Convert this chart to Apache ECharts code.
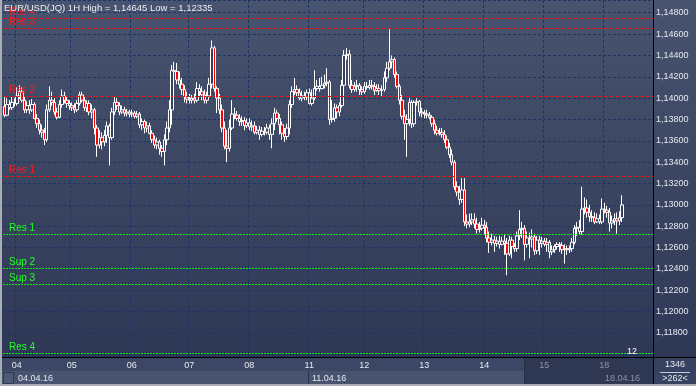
<!DOCTYPE html>
<html><head><meta charset="utf-8">
<script src="https://cdn.jsdelivr.net/npm/echarts/dist/echarts.min.js"></script>
<style>html,body{margin:0;padding:0;background:#3a4666;overflow:hidden}#c{width:696px;height:386px}</style>
</head><body><div id="c"></div>
<script>
// ---- DATA ----
const titleText = 'EUR/USD(JQ) 1H High = 1,14645 Low = 1,12335';
// [open, close, low, high] per hourly bar
const candles = [
[1.1392,1.1384,1.1382,1.1401],[1.1384,1.1394,1.1383,1.1400],[1.1394,1.1391,1.1389,1.1398],[1.1391,1.1396,1.1389,1.1401],
[1.1396,1.1395,1.1392,1.1400],[1.1395,1.1402,1.1393,1.1410],[1.1402,1.1406,1.1399,1.1412],[1.1406,1.1398,1.1396,1.1410],
[1.1398,1.1389,1.1386,1.1402],[1.1389,1.1393,1.1386,1.1397],[1.1393,1.1389,1.1385,1.1398],[1.1389,1.1394,1.1387,1.1399],
[1.1394,1.1381,1.1380,1.1396],[1.1381,1.1376,1.1372,1.1385],[1.1376,1.1370,1.1366,1.1380],[1.1370,1.1368,1.1363,1.1375],
[1.1368,1.1361,1.1356,1.1372],[1.1361,1.1389,1.1359,1.1394],[1.1389,1.1398,1.1387,1.1411],[1.1398,1.1396,1.1393,1.1406],
[1.1396,1.1387,1.1384,1.1400],[1.1387,1.1382,1.1380,1.1391],[1.1382,1.1394,1.1381,1.1398],[1.1394,1.1402,1.1391,1.1408],
[1.1402,1.1398,1.1395,1.1406],[1.1398,1.1395,1.1391,1.1402],[1.1395,1.1393,1.1389,1.1398],[1.1393,1.1391,1.1388,1.1396],
[1.1391,1.1389,1.1386,1.1395],[1.1389,1.1395,1.1387,1.1398],[1.1395,1.1403,1.1393,1.1406],[1.1403,1.1398,1.1396,1.1406],
[1.1398,1.1391,1.1388,1.1401],[1.1391,1.1395,1.1387,1.1398],[1.1395,1.1387,1.1384,1.1398],[1.1387,1.1389,1.1381,1.1394],
[1.1389,1.1372,1.1366,1.1391],[1.1372,1.1356,1.1345,1.1375],[1.1356,1.1363,1.1353,1.1370],[1.1363,1.1359,1.1352,1.1368],
[1.1359,1.1365,1.1355,1.1370],[1.1365,1.1374,1.1358,1.1378],[1.1374,1.1363,1.1337,1.1376],[1.1363,1.1387,1.1361,1.1391],
[1.1387,1.1396,1.1384,1.1401],[1.1396,1.1393,1.1389,1.1400],[1.1393,1.1387,1.1384,1.1396],[1.1387,1.1389,1.1385,1.1393],
[1.1389,1.1386,1.1383,1.1392],[1.1386,1.1387,1.1383,1.1390],[1.1387,1.1385,1.1382,1.1389],[1.1385,1.1386,1.1382,1.1389],
[1.1386,1.1383,1.1381,1.1388],[1.1383,1.1385,1.1381,1.1388],[1.1385,1.1375,1.1372,1.1387],[1.1375,1.1378,1.1370,1.1381],
[1.1378,1.1372,1.1367,1.1380],[1.1372,1.1374,1.1368,1.1378],[1.1374,1.1367,1.1366,1.1377],[1.1367,1.1361,1.1358,1.1370],
[1.1361,1.1356,1.1353,1.1365],[1.1356,1.1359,1.1352,1.1363],[1.1359,1.1353,1.1347,1.1361],[1.1353,1.1350,1.1345,1.1356],
[1.1350,1.1361,1.1337,1.1366],[1.1361,1.1372,1.1356,1.1378],[1.1372,1.1389,1.1368,1.1398],[1.1389,1.1426,1.1375,1.1431],
[1.1426,1.1425,1.1417,1.1434],[1.1425,1.1417,1.1413,1.1433],[1.1417,1.1413,1.1409,1.1425],[1.1413,1.1408,1.1403,1.1419],
[1.1408,1.1401,1.1396,1.1412],[1.1401,1.1399,1.1395,1.1406],[1.1399,1.1398,1.1395,1.1404],[1.1398,1.1400,1.1395,1.1403],
[1.1400,1.1398,1.1395,1.1404],[1.1398,1.1409,1.1396,1.1415],[1.1409,1.1406,1.1401,1.1413],[1.1406,1.1403,1.1398,1.1411],
[1.1403,1.1398,1.1395,1.1408],[1.1398,1.1402,1.1395,1.1406],[1.1402,1.1413,1.1399,1.1419],[1.1413,1.1447,1.1409,1.1454],
[1.1447,1.1409,1.1406,1.1449],[1.1409,1.1400,1.1386,1.1411],[1.1400,1.1389,1.1385,1.1404],[1.1389,1.1372,1.1368,1.1394],
[1.1372,1.1355,1.1352,1.1378],[1.1355,1.1353,1.1340,1.1370],[1.1353,1.1372,1.1350,1.1380],[1.1372,1.1385,1.1370,1.1398],
[1.1385,1.1384,1.1380,1.1391],[1.1384,1.1381,1.1379,1.1388],[1.1381,1.1378,1.1374,1.1385],[1.1378,1.1379,1.1374,1.1383],
[1.1379,1.1374,1.1370,1.1382],[1.1374,1.1377,1.1372,1.1381],[1.1377,1.1373,1.1370,1.1381],[1.1373,1.1374,1.1369,1.1379],
[1.1374,1.1368,1.1366,1.1378],[1.1368,1.1370,1.1366,1.1374],[1.1370,1.1366,1.1361,1.1374],[1.1366,1.1369,1.1364,1.1373],
[1.1369,1.1368,1.1365,1.1373],[1.1368,1.1372,1.1366,1.1376],[1.1372,1.1366,1.1361,1.1375],[1.1366,1.1376,1.1353,1.1381],
[1.1376,1.1386,1.1370,1.1391],[1.1386,1.1381,1.1378,1.1389],[1.1381,1.1375,1.1366,1.1385],[1.1375,1.1367,1.1361,1.1378],
[1.1367,1.1364,1.1359,1.1372],[1.1364,1.1372,1.1361,1.1376],[1.1372,1.1394,1.1366,1.1398],[1.1394,1.1406,1.1391,1.1411],
[1.1406,1.1408,1.1403,1.1419],[1.1408,1.1405,1.1402,1.1412],[1.1405,1.1400,1.1398,1.1409],[1.1400,1.1402,1.1397,1.1407],
[1.1402,1.1401,1.1398,1.1406],[1.1401,1.1405,1.1398,1.1408],[1.1405,1.1395,1.1394,1.1409],[1.1395,1.1400,1.1393,1.1408],
[1.1400,1.1409,1.1398,1.1426],[1.1409,1.1411,1.1407,1.1417],[1.1411,1.1409,1.1406,1.1419],[1.1409,1.1412,1.1408,1.1420],
[1.1412,1.1414,1.1409,1.1422],[1.1414,1.1415,1.1411,1.1428],[1.1415,1.1380,1.1375,1.1417],[1.1380,1.1381,1.1377,1.1398],
[1.1381,1.1391,1.1378,1.1395],[1.1391,1.1387,1.1381,1.1394],[1.1387,1.1393,1.1383,1.1396],[1.1393,1.1412,1.1391,1.1417],
[1.1412,1.1440,1.1409,1.1445],[1.1440,1.1441,1.1436,1.1447],[1.1441,1.1412,1.1409,1.1445],[1.1412,1.1408,1.1405,1.1417],
[1.1408,1.1411,1.1406,1.1415],[1.1411,1.1412,1.1406,1.1417],[1.1412,1.1408,1.1403,1.1414],[1.1408,1.1406,1.1403,1.1411],
[1.1406,1.1411,1.1404,1.1415],[1.1411,1.1410,1.1408,1.1415],[1.1410,1.1412,1.1408,1.1417],[1.1412,1.1411,1.1408,1.1417],
[1.1411,1.1407,1.1403,1.1415],[1.1407,1.1409,1.1406,1.1413],[1.1409,1.1407,1.1403,1.1413],[1.1407,1.1408,1.1401,1.1412],
[1.1408,1.1419,1.1406,1.1425],[1.1419,1.1428,1.1415,1.1434],[1.1428,1.1434,1.1426,1.14645],[1.1434,1.1436,1.1428,1.1440],
[1.1436,1.1422,1.1419,1.1438],[1.1422,1.1411,1.1409,1.1425],[1.1411,1.1398,1.1394,1.1413],[1.1398,1.1383,1.1380,1.1403],
[1.1383,1.1376,1.1361,1.1389],[1.1376,1.1380,1.1345,1.1385],[1.1380,1.1396,1.1374,1.1400],[1.1396,1.1376,1.1372,1.1398],
[1.1376,1.1396,1.1373,1.1398],[1.1396,1.1397,1.1393,1.1400],[1.1397,1.1387,1.1383,1.1398],[1.1387,1.1386,1.1382,1.1391],
[1.1386,1.1385,1.1381,1.1389],[1.1385,1.1384,1.1381,1.1389],[1.1384,1.1382,1.1380,1.1387],[1.1382,1.1376,1.1373,1.1384],
[1.1376,1.1370,1.1366,1.1380],[1.1370,1.1367,1.1365,1.1374],[1.1367,1.1368,1.1365,1.1372],[1.1368,1.1366,1.1363,1.1372],
[1.1366,1.1361,1.1358,1.1370],[1.1361,1.1354,1.1352,1.1365],[1.1354,1.1347,1.1344,1.1358],[1.1347,1.1340,1.1337,1.1352],
[1.1340,1.1317,1.1314,1.1342],[1.1317,1.1312,1.1308,1.1322],[1.1312,1.1305,1.1300,1.1318],[1.1305,1.1314,1.1302,1.1325],
[1.1314,1.1284,1.1280,1.1325],[1.1284,1.1282,1.1278,1.1291],[1.1282,1.1284,1.1279,1.1292],[1.1284,1.1286,1.1281,1.1292],
[1.1286,1.1282,1.1278,1.1292],[1.1282,1.1277,1.1273,1.1288],[1.1277,1.1278,1.1274,1.1284],[1.1278,1.1281,1.1276,1.1288],
[1.1281,1.1279,1.1272,1.1286],[1.1279,1.1269,1.1265,1.1284],[1.1269,1.1265,1.1255,1.1275],[1.1265,1.1267,1.1262,1.1273],
[1.1267,1.1264,1.1256,1.1271],[1.1264,1.1266,1.1261,1.1270],[1.1266,1.1263,1.1259,1.1271],[1.1263,1.1266,1.1262,1.1270],
[1.1266,1.1264,1.1253,1.1272],[1.1264,1.1254,1.1234,1.1269],[1.1254,1.1267,1.1252,1.1271],[1.1267,1.1261,1.1250,1.1270],
[1.1261,1.1259,1.1256,1.1264],[1.1259,1.1271,1.1256,1.1275],[1.1271,1.1277,1.1267,1.1295],[1.1277,1.1278,1.1269,1.1284],
[1.1278,1.1263,1.1248,1.1281],[1.1263,1.1269,1.1260,1.1275],[1.1269,1.1268,1.1250,1.1274],[1.1268,1.1270,1.1260,1.1277],
[1.1270,1.1257,1.1253,1.1273],[1.1257,1.1267,1.1254,1.1271],[1.1267,1.1264,1.1253,1.1271],[1.1264,1.1266,1.1260,1.1270],
[1.1266,1.1263,1.1261,1.1269],[1.1263,1.1265,1.1256,1.1269],[1.1265,1.1256,1.1250,1.1267],[1.1256,1.1258,1.1253,1.1262],
[1.1258,1.1261,1.1255,1.1263],[1.1261,1.1263,1.1258,1.1265],[1.1263,1.1262,1.1256,1.1265],[1.1262,1.1258,1.1254,1.1265],
[1.1258,1.1259,1.1245,1.1263],[1.1259,1.1258,1.1253,1.1262],[1.1258,1.1259,1.1255,1.1262],[1.1259,1.1265,1.1256,1.1269],
[1.1265,1.1278,1.1263,1.1281],[1.1278,1.1279,1.1271,1.1284],[1.1279,1.1275,1.1272,1.1286],[1.1275,1.1296,1.1272,1.1317],
[1.1296,1.1297,1.1291,1.1307],[1.1297,1.1293,1.1288,1.1305],[1.1293,1.1289,1.1284,1.1300],[1.1289,1.1288,1.1284,1.1295],
[1.1288,1.1284,1.1282,1.1293],[1.1284,1.1287,1.1283,1.1292],[1.1287,1.1284,1.1282,1.1291],[1.1284,1.1296,1.1282,1.1306],
[1.1296,1.1295,1.1292,1.1302],[1.1295,1.1293,1.1288,1.1299],[1.1293,1.1283,1.1275,1.1297],[1.1283,1.1285,1.1278,1.1290],
[1.1285,1.1287,1.1281,1.1292],[1.1287,1.1285,1.1273,1.1293],[1.1285,1.1288,1.1281,1.1294],[1.1288,1.1300,1.1284,1.1309]
];
const totalSlots = 260;               // bar slots on the time axis (incl. empty right margin)
const dayStartIndex = [5, 27, 51, 74, 98, 122, 144, 168, 192, 216, 240];
const dayLabels = ['04', '05', '06', '07', '08', '11', '12', '13', '14', '15', '18'];
const dimmedDays = ['15', '18'];
const weekLabels = ['04.04.16', '11.04.16', '18.04.16'];
const redLevelNames = ['Res 4', 'Res 3', 'Res 2', 'Res 1'];
const redLevelValues = [1.14746, 1.14652, 1.14015, 1.13266];
const greenLevelNames = ['Res 1', 'Sup 2', 'Sup 3', 'Res 4'];
const greenLevelValues = [1.12722, 1.12404, 1.12254, 1.11608];
const lastPrice = 1.13000;
const yMin = 1.11575, yMax = 1.14919, yStep = 0.002, yLabelFloor = 1.1175;
const barCountText = '1346';
const visibleText = '>262<';
const cornerText = '12';

// ---- CHART ----
const categories = Array.from({length: totalSlots}, (_, i) => String(i));
const fmt = v => v.toFixed(5).replace('.', ',');
const FONT = 'Liberation Sans, Arial, sans-serif';

const markData = [];
redLevelValues.forEach((v, i) => markData.push({
  name: redLevelNames[i], yAxis: v,
  lineStyle: {color: '#e81010'}, label: {color: '#ff1a1a'}
}));
greenLevelValues.forEach((v, i) => markData.push({
  name: greenLevelNames[i], yAxis: v,
  lineStyle: {color: '#14e614'}, label: {color: '#22ff22'}
}));
markData.push({
  name: 'last', yAxis: lastPrice,
  lineStyle: {width: 0, opacity: 0},
  label: {position: 'end', formatter: fmt(lastPrice), color: '#111', backgroundColor: '#c6c8cc',
          padding: [2, 3, 1, 3], borderRadius: 2, fontSize: 9, distance: 2}
});

const chart = echarts.init(document.getElementById('c'), null, {renderer: 'canvas'});
chart.setOption({
  animation: false,
  backgroundColor: {type: 'linear', x: 0, y: 0, x2: 0, y2: 1,
    colorStops: [{offset: 0, color: '#48536f'}, {offset: 1, color: '#2c3654'}]},
  grid: {left: 3, right: 43, top: 0, bottom: 29, show: false},
  xAxis: {
    type: 'category', data: categories, boundaryGap: true,
    axisLine: {show: true, lineStyle: {color: '#000', width: 1}},
    axisTick: {show: false},
    axisLabel: {
      interval: (i) => dayStartIndex.includes(i),
      formatter: (v) => dayLabels[dayStartIndex.indexOf(Number(v))] || '',
      color: (v) => dimmedDays.includes(dayLabels[dayStartIndex.indexOf(Number(v))]) ? '#8c93a8' : '#e6e9f0',
      fontSize: 9, fontFamily: FONT, margin: 4
    },
    splitLine: {show: true, interval: (i) => dayStartIndex.includes(i),
      lineStyle: {color: '#1d3564', type: [3, 2], width: 1}}
  },
  yAxis: {
    type: 'value', position: 'right', scale: true,
    min: yMin, max: yMax, splitNumber: 17, minInterval: yStep, maxInterval: yStep,
    axisLine: {show: true, lineStyle: {color: '#000', width: 1}},
    axisTick: {show: false},
    axisLabel: {formatter: v => (v < yLabelFloor ? '' : fmt(v)), color: '#e6e9f0', fontSize: 9, fontFamily: FONT, margin: 3,
      showMinLabel: false, showMaxLabel: false},
    splitLine: {show: true, lineStyle: {color: '#1d3564', type: [3, 2], width: 1}}
  },
  series: [{
    type: 'candlestick', data: candles, barWidth: 3,
    itemStyle: {color: '#34405e', color0: '#ff0000', borderColor: '#ffffff', borderColor0: '#ffffff', borderWidth: 1},
    markLine: {
      silent: true, symbol: 'none', animation: false, precision: 5,
      lineStyle: {type: [2, 1], width: 1},
      label: {position: 'insideStartTop', formatter: '{b}', fontSize: 10, fontFamily: FONT, distance: [6, 1]},
      data: markData
    }
  }],
  graphic: [
    {type: 'rect', z: -10, shape: {x: 0, y: 357, width: 653, height: 14}, style: {fill: '#3b4765'}},
    {type: 'rect', z: -10, shape: {x: 0, y: 371, width: 653, height: 15}, style: {fill: '#47536f'}},
    {type: 'rect', z: -9, shape: {x: 524, y: 357, width: 129, height: 29}, style: {fill: '#2e3852'}},
    {type: 'rect', z: -9, shape: {x: 653, y: 357, width: 43, height: 29}, style: {fill: '#36425f'}},
    {type: 'line', z: 5, shape: {x1: 524.5, y1: 357, x2: 524.5, y2: 386}, style: {stroke: '#262e44', lineWidth: 1}},
    {type: 'line', z: 5, shape: {x1: 308.5, y1: 371, x2: 308.5, y2: 386}, style: {stroke: '#2a3350', lineWidth: 1}},
    {type: 'line', z: 5, shape: {x1: 0, y1: 357.5, x2: 696, y2: 357.5}, style: {stroke: '#000', lineWidth: 1}},
    {type: 'line', z: 5, shape: {x1: 653.5, y1: 0, x2: 653.5, y2: 386}, style: {stroke: '#000', lineWidth: 1}},
    {type: 'rect', z: 5, shape: {x: 3.5, y: 372.5, width: 10, height: 11}, style: {fill: '#4d5975', stroke: '#2f3852', lineWidth: 1}},
    {type: 'rect', z: 6, shape: {x: 0, y: 0, width: 2, height: 386}, style: {fill: '#a9adb6'}},
    {type: 'rect', z: 6, shape: {x: 0, y: 384, width: 696, height: 2}, style: {fill: '#a9adb6'}},
    {type: 'text', z: 10, style: {x: 18, y: 378.5, text: weekLabels[0], fill: '#e6e9f0', font: '9px ' + FONT, textVerticalAlign: 'middle'}},
    {type: 'text', z: 10, style: {x: 312, y: 378.5, text: weekLabels[1], fill: '#e6e9f0', font: '9px ' + FONT, textVerticalAlign: 'middle'}},
    {type: 'text', z: 10, style: {x: 605, y: 378.5, text: weekLabels[2], fill: '#8c93a8', font: '9px ' + FONT, textVerticalAlign: 'middle'}},
    {type: 'text', z: 10, style: {x: 675, y: 365, text: barCountText, fill: '#e6e9f0', font: '9px ' + FONT, textAlign: 'center', textVerticalAlign: 'middle'}},
    {type: 'line', z: 10, shape: {x1: 660, y1: 372.5, x2: 690, y2: 372.5}, style: {stroke: '#c8ccd6', lineWidth: 1}},
    {type: 'text', z: 10, style: {x: 675, y: 379, text: visibleText, fill: '#e6e9f0', font: '9px ' + FONT, textAlign: 'center', textVerticalAlign: 'middle'}},
    {type: 'text', z: 10, style: {x: 632, y: 352, text: cornerText, fill: '#ffffff', font: '9px ' + FONT, textAlign: 'center', textVerticalAlign: 'middle'}},
    {type: 'text', z: 20, style: {x: 4, y: 8, text: titleText, fill: '#eceef2', font: '9.5px ' + FONT, textVerticalAlign: 'middle'}}
  ]
});
</script></body></html>
